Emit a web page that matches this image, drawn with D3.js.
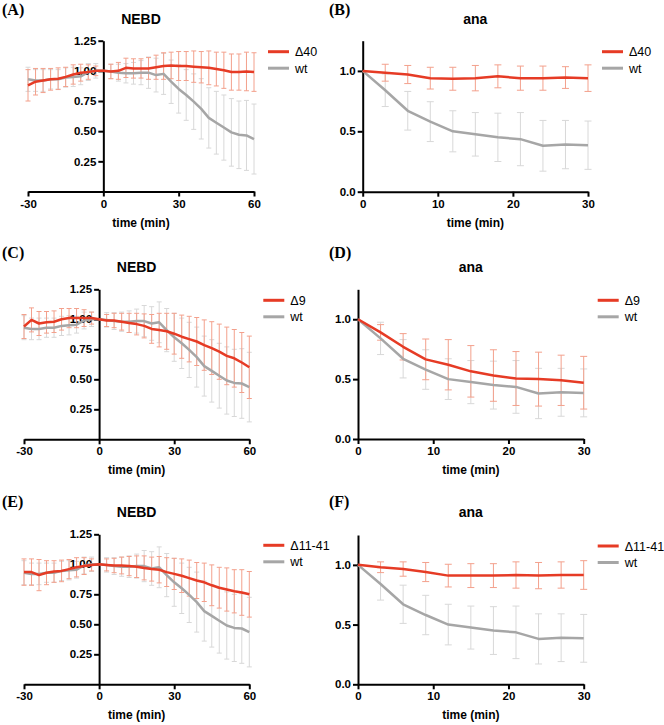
<!DOCTYPE html>
<html>
<head>
<meta charset="utf-8">
<script src="https://cdn.jsdelivr.net/npm/d3@7"></script>
<style>
  body { margin: 0; background: #fff; }
  svg { display: block; font-family: "Liberation Sans", Arial, sans-serif; }
  .axis path, .axis line { stroke: #000; stroke-width: 2; }
  .axis text { font-family: "Liberation Sans", Arial, sans-serif; font-size: 11.5px; font-weight: bold; fill: #000; }
</style>
</head>
<body>
<div id="chart"></div>
<script>
// time points (min)
const nebdTime = [-30, -27, -24, -21, -18, -15, -12, -9, -6, -3, 0, 3, 6, 9, 12, 15, 18, 21, 24, 27, 30, 33, 36, 39, 42, 45, 48, 51, 54, 57, 60];
const anaTime = [0, 3, 6, 9, 12, 15, 18, 21, 24, 27, 30];

// NEBD series (mean, error)
const wtNebd = [0.93, 0.92, 0.92, 0.93, 0.93, 0.945, 0.95, 0.955, 0.99, 1.0, 1.0, 0.995, 0.985, 0.98, 0.98, 0.985, 0.985, 0.965, 0.975, 0.91, 0.85, 0.8, 0.745, 0.685, 0.61, 0.57, 0.53, 0.49, 0.47, 0.465, 0.435];
const wtNebdErr = [0.1, 0.09, 0.09, 0.08, 0.08, 0.08, 0.08, 0.07, 0.07, 0.06, 0, 0.06, 0.07, 0.08, 0.09, 0.1, 0.13, 0.14, 0.17, 0.18, 0.2, 0.21, 0.23, 0.25, 0.25, 0.26, 0.27, 0.28, 0.28, 0.29, 0.29];
const d40Nebd = [0.88, 0.91, 0.92, 0.93, 0.935, 0.95, 0.97, 0.985, 0.99, 1.0, 1.0, 0.995, 1.0, 1.025, 1.02, 1.02, 1.02, 1.03, 1.04, 1.045, 1.04, 1.04, 1.035, 1.03, 1.025, 1.015, 1.005, 0.99, 0.99, 0.995, 0.99];
const d40NebdErr = [0.13, 0.11, 0.1, 0.09, 0.09, 0.08, 0.08, 0.07, 0.06, 0.04, 0, 0.06, 0.07, 0.08, 0.08, 0.08, 0.09, 0.1, 0.11, 0.11, 0.12, 0.12, 0.13, 0.13, 0.14, 0.14, 0.15, 0.15, 0.15, 0.16, 0.16];
const d9Nebd = [0.94, 0.995, 0.965, 0.975, 0.98, 1.0, 1.01, 1.01, 1.01, 1.01, 1.0, 0.99, 0.99, 0.98, 0.97, 0.96, 0.945, 0.92, 0.91, 0.9, 0.88, 0.855, 0.835, 0.815, 0.785, 0.76, 0.73, 0.695, 0.675, 0.64, 0.6];
const d9NebdErr = [0.1, 0.1, 0.1, 0.09, 0.09, 0.09, 0.08, 0.08, 0.07, 0.05, 0, 0.05, 0.06, 0.07, 0.08, 0.09, 0.1, 0.12, 0.14, 0.15, 0.17, 0.18, 0.19, 0.2, 0.21, 0.22, 0.23, 0.24, 0.24, 0.25, 0.26];
const d1141Nebd = [0.935, 0.935, 0.91, 0.93, 0.94, 0.945, 0.96, 0.975, 0.985, 0.995, 1.0, 0.995, 0.99, 0.99, 0.985, 0.98, 0.97, 0.96, 0.955, 0.935, 0.92, 0.905, 0.885, 0.865, 0.85, 0.825, 0.805, 0.79, 0.775, 0.765, 0.75];
const d1141NebdErr = [0.11, 0.11, 0.13, 0.1, 0.09, 0.09, 0.08, 0.08, 0.07, 0.05, 0, 0.05, 0.06, 0.07, 0.08, 0.09, 0.1, 0.1, 0.11, 0.12, 0.13, 0.14, 0.15, 0.15, 0.16, 0.17, 0.17, 0.18, 0.18, 0.19, 0.19];

// anaphase series (mean, error)
const wtAna = [1.0, 0.84, 0.67, 0.58, 0.5, 0.475, 0.45, 0.435, 0.38, 0.39, 0.385];
const wtAnaErr = [0, 0.135, 0.16, 0.165, 0.17, 0.18, 0.2, 0.22, 0.21, 0.2, 0.2];
const d40Ana = [1.0, 0.985, 0.97, 0.94, 0.935, 0.94, 0.955, 0.94, 0.94, 0.945, 0.94];
const d40AnaErr = [0, 0.07, 0.075, 0.09, 0.095, 0.105, 0.095, 0.1, 0.1, 0.09, 0.11];
const d9Ana = [1.0, 0.89, 0.77, 0.665, 0.62, 0.565, 0.53, 0.505, 0.5, 0.49, 0.47];
const d9AnaErr = [0, 0.065, 0.11, 0.17, 0.21, 0.215, 0.215, 0.225, 0.225, 0.21, 0.22];
const d1141Ana = [1.0, 0.98, 0.965, 0.94, 0.91, 0.91, 0.91, 0.915, 0.91, 0.915, 0.915];
const d1141AnaErr = [0, 0.045, 0.06, 0.08, 0.095, 0.1, 0.1, 0.11, 0.11, 0.11, 0.12];

// axis ticks
const nebdXTicks = [-30, 0, 30, 60];
const nebdYTicks = [0.25, 0.5, 0.75, 1.0, 1.25];
const anaXTicks = [0, 10, 20, 30];
const anaYTicks = [0, 0.5, 1.0];

const RED = "#e63b25";
const RED_ERR = "#f3a08c";
const GREY = "#a6a6a6";
const GREY_ERR = "#d8d8d8";

const width = 664;
const height = 725;

const svg = d3
  .select("#chart")
  .append("svg")
  .attr("width", width)
  .attr("height", height);

// panel layout: x/y pixel ranges, label & title positions
const panels = [
  { letter: "(A)", lx: 2, ly: 15, title: "NEBD", time: nebdTime, xDomain: [-30, 60], xTicks: nebdXTicks, yTicks: nebdYTicks, yFmt: ".2f",
    x0: 28, x1: 254, y0: 191.5, y1: 40.7, titleY: 24, name: "\u039440", mut: d40Nebd, mutErr: d40NebdErr, wt: wtNebd, wtErr: wtNebdErr },
  { letter: "(B)", lx: 329, ly: 15, title: "ana", time: anaTime, xDomain: [0, 30], xTicks: anaXTicks, yTicks: anaYTicks, yFmt: ".1f",
    x0: 362.7, x1: 588, y0: 191.7, y1: 40.7, titleY: 24, name: "\u039440", mut: d40Ana, mutErr: d40AnaErr, wt: wtAna, wtErr: wtAnaErr },
  { letter: "(C)", lx: 2, ly: 258, title: "NEBD", time: nebdTime, xDomain: [-30, 60], xTicks: nebdXTicks, yTicks: nebdYTicks, yFmt: ".2f",
    x0: 24, x1: 249.3, y0: 439.3, y1: 289.3, titleY: 272, name: "\u03949", mut: d9Nebd, mutErr: d9NebdErr, wt: wtNebd, wtErr: wtNebdErr },
  { letter: "(D)", lx: 329, ly: 258, title: "ana", time: anaTime, xDomain: [0, 30], xTicks: anaXTicks, yTicks: anaYTicks, yFmt: ".1f",
    x0: 358, x1: 583.7, y0: 439, y1: 289.3, titleY: 272, name: "\u03949", mut: d9Ana, mutErr: d9AnaErr, wt: wtAna, wtErr: wtAnaErr },
  { letter: "(E)", lx: 2, ly: 507, title: "NEBD", time: nebdTime, xDomain: [-30, 60], xTicks: nebdXTicks, yTicks: nebdYTicks, yFmt: ".2f",
    x0: 24, x1: 249.3, y0: 684.3, y1: 534.3, titleY: 517, name: "\u039411-41", mut: d1141Nebd, mutErr: d1141NebdErr, wt: wtNebd, wtErr: wtNebdErr },
  { letter: "(F)", lx: 329, ly: 507, title: "ana", time: anaTime, xDomain: [0, 30], xTicks: anaXTicks, yTicks: anaYTicks, yFmt: ".1f",
    x0: 358, x1: 583.7, y0: 684.3, y1: 535, titleY: 517, name: "\u039411-41", mut: d1141Ana, mutErr: d1141AnaErr, wt: wtAna, wtErr: wtAnaErr },
];

panels.forEach((p) => {
  const x = d3.scaleLinear().domain(p.xDomain).range([p.x0, p.x1]);
  const y = d3.scaleLinear().domain([0, 1.25]).range([p.y0, p.y1]);
  const g = svg.append("g");

  // panel letter
  g.append("text")
    .attr("x", p.lx)
    .attr("y", p.ly)
    .attr("font-family", "'Liberation Serif', 'Times New Roman', serif")
    .attr("font-weight", "bold")
    .attr("font-size", 16)
    .text(p.letter);

  // title
  g.append("text")
    .attr("x", (p.x0 + p.x1) / 2)
    .attr("y", p.titleY)
    .attr("text-anchor", "middle")
    .attr("font-weight", "bold")
    .attr("font-size", 14)
    .text(p.title);

  const capW = p.title === "ana" ? 3.5 : 2.5;
  const series = [
    { vals: p.wt, err: p.wtErr, color: GREY, errColor: GREY_ERR },
    { vals: p.mut, err: p.mutErr, color: RED, errColor: RED_ERR },
  ];

  // error bars
  series.forEach((s) => {
    const eg = g.append("g").attr("stroke", s.errColor).attr("stroke-width", 1).attr("fill", "none");
    const pts = p.time.map((t, i) => ({ t, v: s.vals[i], e: s.err[i] })).filter((d) => d.e > 0);
    eg.selectAll(".bar")
      .data(pts)
      .join("path")
      .attr("d", (d) => {
        const cx = x(d.t);
        const top = y(d.v + d.e);
        const bot = y(d.v - d.e);
        return `M${cx},${top}V${bot}M${cx - capW},${top}H${cx + capW}M${cx - capW},${bot}H${cx + capW}`;
      });
  });

  // axes (plain hyphen for negative ticks, like the original)
  const xAxis = d3.axisBottom(x).tickValues(p.xTicks).tickSize(5).tickSizeOuter(0).tickPadding(3).tickFormat((d) => String(d));
  g.append("g")
    .attr("class", "axis")
    .attr("transform", `translate(0,${p.y0})`)
    .call(xAxis);

  const yAxis = d3.axisLeft(y).tickValues(p.yTicks).tickSize(5).tickSizeOuter(0).tickPadding(2).tickFormat(d3.format(p.yFmt));
  g.append("g")
    .attr("class", "axis")
    .attr("transform", `translate(${x(0)},0)`)
    .call(yAxis);

  // lines
  const line = d3
    .line()
    .x((d) => x(d[0]))
    .y((d) => y(d[1]));
  series.forEach((s) => {
    g.append("path")
      .datum(p.time.map((t, i) => [t, s.vals[i]]))
      .attr("fill", "none")
      .attr("stroke", s.color)
      .attr("stroke-width", 2.5)
      .attr("stroke-linejoin", "round")
      .attr("d", line);
  });

  // x label
  g.append("text")
    .attr("x", (p.x0 + p.x1) / 2)
    .attr("y", p.y0 + 35)
    .attr("text-anchor", "middle")
    .attr("font-weight", "bold")
    .attr("font-size", 12)
    .text("time (min)");

  // legend
  const legend = [
    { label: p.name, color: RED },
    { label: "wt", color: GREY },
  ];
  const lgx = p.x1 + 14;
  legend.forEach((l, i) => {
    const ly = p.y1 + 11 + i * 16.5;
    g.append("line")
      .attr("x1", lgx)
      .attr("x2", lgx + 21)
      .attr("y1", ly)
      .attr("y2", ly)
      .attr("stroke", l.color)
      .attr("stroke-width", 3);
    g.append("text")
      .attr("x", lgx + 27)
      .attr("y", ly + 4.5)
      .attr("font-size", 12.5)
      .text(l.label);
  });
});
</script>
</body>
</html>
